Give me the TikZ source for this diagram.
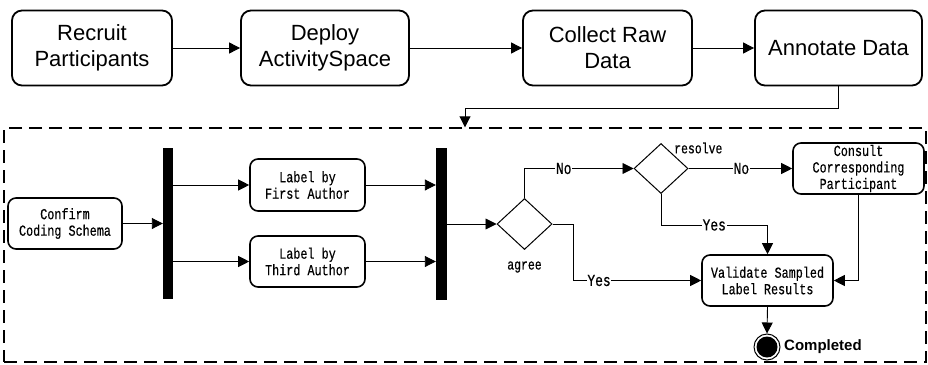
\documentclass[tikz,border=0pt]{standalone}
\usepackage{fontspec}
\setmainfont{Liberation Sans}
\newfontfamily\monof[FakeBold=0.4,FakeStretch=0.77]{Liberation Mono}
\usetikzlibrary{arrows.meta,shapes.geometric}
\begin{document}
\begin{tikzpicture}[x=1pt,y=-1pt,
  topbox/.style={draw,line width=1.8pt,rounded corners=10pt,minimum height=75pt,align=center,font=\fontsize{22}{26}\selectfont,inner sep=0pt},
  actbox/.style={draw,line width=1.6pt,rounded corners=8pt,minimum height=51pt,align=center,font=\monof\fontsize{15.3}{16.5}\selectfont,inner sep=0pt},
  barbox/.style={fill=black,draw=none,minimum width=10pt,minimum height=152pt,inner sep=0pt},
  decision/.style={diamond,draw,line width=1pt,inner sep=0pt},
  arr/.style={-{Triangle[length=11pt,width=11pt]},line width=0.9pt},
  lbl/.style={fill=white,font=\monof\fontsize{16.8}{16}\selectfont,inner sep=0.6pt},
  smalllbl/.style={font=\monof\fontsize{14.9}{14}\selectfont,inner sep=0pt}
]
\useasboundingbox (0,0) rectangle (928,364);
% top row
\node[topbox,minimum width=160pt] (R) at (92,48) {Recruit\\Participants};
\node[topbox,minimum width=168pt] (D) at (325,48) {Deploy\\ActivitySpace};
\node[topbox,minimum width=169pt] (C) at (607.5,48) {Collect Raw\\Data};
\node[topbox,minimum width=167pt] (A) at (838.5,48) {Annotate Data};
\draw[arr] (R) -- (D);
\draw[arr] (D) -- (C);
\draw[arr] (C) -- (A);
% frame
\node[draw,dashed,dash pattern=on 13pt off 7pt,line width=1.4pt,minimum width=922pt,minimum height=234pt,inner sep=0pt] (frame) at (465,245) {};
\draw[arr] (A.south) -- ++(0,22) -| (frame.north);
% activity part
\node[actbox,minimum width=114pt] (conf) at (65,223.5) {Confirm\\Coding Schema};
\node[barbox,minimum height=151pt] (bar1) at (168,223.5) {};
\node[actbox,minimum width=115pt,minimum height=52pt] (first) at (307.5,185) {Label by\\First Author};
\node[actbox,minimum width=115pt] (third) at (307.5,261.5) {Label by\\Third Author};
\node[barbox,minimum width=11pt] (bar2) at (441.5,224) {};
\node[decision,minimum width=55pt,minimum height=51pt] (agree) at (524.5,224) {};
\node[smalllbl] (agreel) at (524.5,267) {agree};
\node[decision,minimum width=54pt,minimum height=50pt] (resolve) at (661,168.5) {};
\node[smalllbl,anchor=west] (resolvel) at (674,148) {resolve};
\node[actbox,minimum width=131pt] (consult) at (858.5,168.5) {Consult\\Corresponding\\Participant};
\node[actbox,minimum width=131pt] (valid) at (767.5,280.5) {Validate Sampled\\Label Results};
\node[circle,draw,line width=1pt,minimum size=26pt,inner sep=0pt] (endc) at (767,347) {};
\fill (endc.center) circle (10.5pt);
\node[anchor=west,font=\bfseries\fontsize{15}{15}\selectfont,inner sep=0pt] (compl) at (784,347) {Completed};

\draw[arr] (conf.east) -- (conf.east -| bar1.west);
\draw[arr] (bar1.east |- first.west) -- (first.west);
\draw[arr] (bar1.east |- third.west) -- (third.west);
\draw[arr] (first.east) -- (first.east -| bar2.west);
\draw[arr] (third.east) -- (third.east -| bar2.west);
\draw[arr] (bar2.east |- agree.west) -- (agree.west);
\draw[arr] (agree.north) |- node[lbl,pos=0.68]{No} (resolve.west);
\draw[arr] (agree.east) -- ++(21,0) |- node[lbl,pos=0.6]{Yes} (valid.west);
\draw[arr] (resolve.east) -- node[lbl,pos=0.51]{No} (consult.west);
\draw[arr] (resolve.south) -- ++(0,31) -| node[lbl,pos=0.25]{Yes} (valid.north);
\draw[arr] (consult.south) |- (valid.east);
\draw[arr] (valid.south) -- (endc.north);
\end{tikzpicture}
\end{document}
